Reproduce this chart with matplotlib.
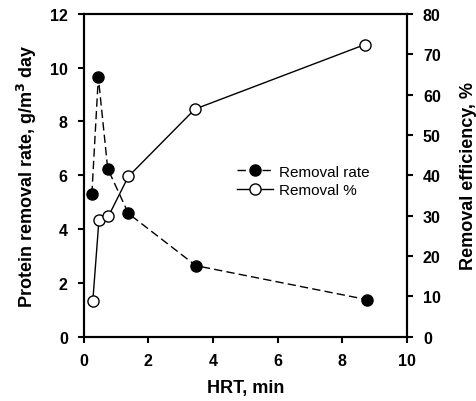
import matplotlib
matplotlib.use('Agg')
import matplotlib.pyplot as plt

plt.rcParams['font.family'] = ['Liberation Sans', 'DejaVu Sans']
plt.rcParams['font.weight'] = 'bold'

# HRT (min) and removal rate (g/m3 day)
hrt_rate = [0.25, 0.45, 0.74, 1.38, 3.47, 8.75]
rate = [5.3, 9.65, 6.25, 4.58, 2.64, 1.38]

# HRT (min) and removal efficiency (%)
hrt_eff = [0.28, 0.47, 0.76, 1.38, 3.44, 8.70]
eff = [8.9, 29.0, 29.8, 39.7, 56.4, 72.4]

fig = plt.figure(figsize=(4.76, 4.02), dpi=100)
ax = fig.add_axes([0.176, 0.160, 0.679, 0.803])
ax2 = ax.twinx()

l1, = ax.plot(hrt_rate, rate, color='black', ls=(0, (6, 3)), lw=1,
              marker='o', ms=8, mfc='black', mec='black', zorder=3)
l2, = ax2.plot(hrt_eff, eff, color='black', ls='-', lw=1,
               marker='o', ms=8, mfc='white', mec='black', mew=1, zorder=3)

ax.set_xlim(0, 10)
ax.set_ylim(0, 12)
ax2.set_ylim(0, 80)
ax.set_xticks(range(0, 11, 2))
ax.set_yticks(range(0, 13, 2))
ax2.set_yticks(range(0, 81, 10))

for a in (ax, ax2):
    for s in a.spines.values():
        s.set_linewidth(1.5)
    a.tick_params(direction='out', length=4.5, width=1.5, labelsize=11.5, pad=7)
    for lab in a.get_xticklabels() + a.get_yticklabels():
        lab.set_fontweight('bold')

ax.set_xlabel('HRT, min', fontsize=13, fontweight='bold', labelpad=8)
ax.set_ylabel('Protein removal rate, g/m$^3$ day', fontsize=13,
              fontweight='bold', labelpad=8)
ax2.set_ylabel('Removal efficiency, %', fontsize=13, fontweight='bold',
               labelpad=14)

ax.legend([l1, l2], ['Removal rate', 'Removal %'], frameon=False,
          loc='upper left', bbox_to_anchor=(0.43, 0.575),
          handlelength=2.4, handletextpad=0.4, labelspacing=0.3,
          prop={'weight': 'normal', 'size': 11})

fig.savefig('out.png', dpi=100)
